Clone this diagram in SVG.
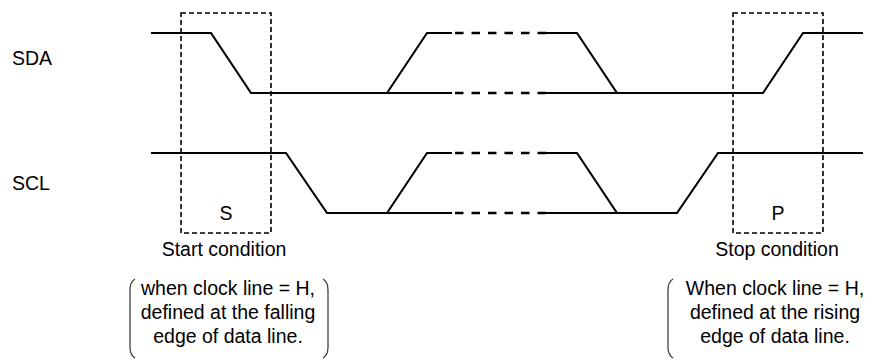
<svg xmlns="http://www.w3.org/2000/svg" width="877" height="360" viewBox="0 0 877 360">
<style>
.sig{fill:none;stroke:#000;stroke-width:2.1;stroke-linejoin:miter}
.gap{fill:none;stroke:#000;stroke-width:2.6;stroke-dasharray:8.5 8}
.box{fill:none;stroke:#000;stroke-width:1.6;stroke-dasharray:5 3}
.br{fill:none;stroke:#333;stroke-width:1.2}
text{font-family:"Liberation Sans",Arial,sans-serif;font-size:19.5px;fill:#000}
.c{text-anchor:middle}
</style>
<rect width="877" height="360" fill="#fff"/>
<g id="labels">
<text x="12" y="65">SDA</text>
<text x="12" y="190">SCL</text>
</g>
<g id="connectors">
<g id="sda">
<path class="sig" d="M151,33 H211 L251,93 H452"/>
<path class="sig" d="M387,93 L427,33 H452"/>
<path class="sig" d="M546,33 H577 L617,93 H763 L803,33 H863"/>
<path class="sig" d="M546,93 H617"/>
<path class="gap" d="M455,33 H546 M455,93 H546"/>
</g>
<g id="scl">
<path class="sig" d="M151,153 H286 L327,213 H452"/>
<path class="sig" d="M387,213 L427,153 H452"/>
<path class="sig" d="M546,153 H577 L617,213 H677 L718,153 H863"/>
<path class="sig" d="M546,213 H617"/>
<path class="gap" d="M455,153 H546 M455,213 H546"/>
</g>
</g>
<g id="start">
<rect class="box" x="181" y="13" width="90" height="220"/>
<text class="c" x="226" y="220">S</text>
<text class="c" x="224" y="256">Start condition</text>
</g>
<g id="stop">
<rect class="box" x="733" y="13" width="90" height="220"/>
<text class="c" x="778" y="220">P</text>
<text class="c" x="777" y="256">Stop condition</text>
</g>
<g id="start-note">
<path class="br" d="M135,279 Q130,282 130,290 V347 Q130,355 135,358"/>
<path class="br" d="M323,279 Q328,282 328,290 V347 Q328,355 323,358"/>
<text class="c" x="228" y="295">when clock line = H,</text>
<text class="c" x="228" y="319">defined at the falling</text>
<text class="c" x="228" y="343">edge of data line.</text>
</g>
<g id="stop-note">
<path class="br" d="M673,279 Q668,282 668,290 V347 Q668,355 673,358"/>
<text class="c" x="775" y="295">When clock line = H,</text>
<text class="c" x="775" y="319">defined at the rising</text>
<text class="c" x="775" y="343">edge of data line.</text>
</g>
</svg>
